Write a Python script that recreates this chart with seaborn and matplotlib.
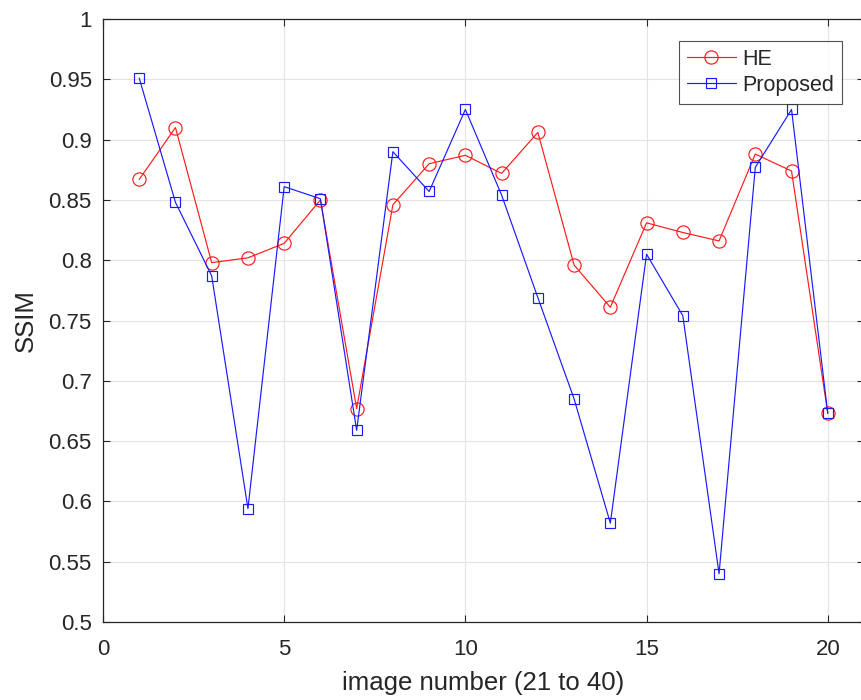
import matplotlib
matplotlib.use("Agg")
import matplotlib.pyplot as plt
import seaborn as sns
import pandas as pd
import numpy as np

image_number = list(range(1, 21))
he_ssim = [0.867, 0.910, 0.798, 0.802, 0.814, 0.850, 0.677, 0.846, 0.880, 0.887,
           0.872, 0.906, 0.796, 0.761, 0.831, 0.823, 0.816, 0.888, 0.874, 0.673]
proposed_ssim = [0.951, 0.848, 0.787, 0.594, 0.861, 0.851, 0.659, 0.890, 0.857, 0.925,
                 0.854, 0.769, 0.685, 0.582, 0.805, 0.754, 0.540, 0.877, 0.925, 0.673]
series_names = ["HE", "Proposed"]
x_ticks = [0, 5, 10, 15, 20]
y_ticks = [0.5, 0.55, 0.6, 0.65, 0.7, 0.75, 0.8, 0.85, 0.9, 0.95, 1.0]
y_tick_labels = ["0.5", "0.55", "0.6", "0.65", "0.7", "0.75", "0.8", "0.85", "0.9", "0.95", "1"]

sns.set_theme(style="white")
plt.rcParams["font.family"] = ["Liberation Sans", "DejaVu Sans"]

fig = plt.figure(figsize=(8.61, 7.0), dpi=100)
ax = fig.add_axes([0.1196, 0.1114, 0.8839, 0.8614])

df_he = pd.DataFrame({"x": image_number, "y": he_ssim})
df_pr = pd.DataFrame({"x": image_number, "y": proposed_ssim})

sns.lineplot(data=df_he, x="x", y="y", ax=ax, color="#ff1a1a", linewidth=0.85,
             marker="o", markersize=9.5, markerfacecolor="none",
             markeredgecolor="#ff1a1a", markeredgewidth=0.85, label=series_names[0])
sns.lineplot(data=df_pr, x="x", y="y", ax=ax, color="#1a1aff", linewidth=0.85,
             marker="s", markersize=7.5, markerfacecolor="none",
             markeredgecolor="#1a1aff", markeredgewidth=0.85, label=series_names[1])

ax.set_xlim(0, 21)
ax.set_ylim(0.5, 1.0)
ax.set_xticks(x_ticks)
ax.set_yticks(y_ticks)
ax.set_yticklabels(y_tick_labels)
ax.grid(True, color="#e3e3e3", linewidth=0.8)
ax.set_axisbelow(True)
for s in ax.spines.values():
    s.set_color("#262626")
    s.set_linewidth(0.9)
ax.tick_params(direction="in", length=5, width=0.8, color="#262626",
               labelsize=16, labelcolor="#262626", top=True, right=True,
               bottom=True, left=True)
ax.tick_params(axis="y", pad=8)
ax.tick_params(axis="x", pad=12)
ax.set_xlabel("image number (21 to 40)", fontsize=18.5, color="#262626", labelpad=8)
ax.set_ylabel("SSIM", fontsize=18.5, color="#262626", labelpad=8)

leg = ax.legend(loc="upper right", bbox_to_anchor=(0.971, 0.9635), borderaxespad=0,
                frameon=True, fancybox=False, fontsize=15.5, handlelength=2.3,
                borderpad=0.35, labelspacing=0.25, handletextpad=0.3)
leg.get_frame().set_edgecolor("#262626")
leg.get_frame().set_linewidth(0.8)

fig.savefig("out.png", dpi=100)
